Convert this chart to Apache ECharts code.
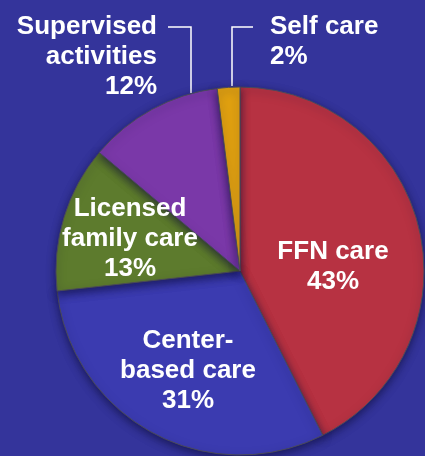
<!DOCTYPE html>
<html>
<head>
<meta charset="utf-8">
<script src="https://cdn.jsdelivr.net/npm/echarts@6/dist/echarts.min.js"></script>
<style>
  html, body { margin: 0; padding: 0; background: #34349b; }
  #chart { width: 425px; height: 456px; }
</style>
</head>
<body>
<div id="chart"></div>
<script>
// pie slices, clockwise from 12 o'clock
var categories = ['FFN care', 'Center-\nbased care', 'Licensed\nfamily care', 'Supervised\nactivities', 'Self care'];
var shares = [43, 31, 13, 12, 2];
var sliceColors = ['#b73242', '#3b3bb0', '#5d7b2d', '#7a38a8', '#e0a010'];

// where each label sits (px), and leader lines for the two outside ones
var labelPos = [
  { x: 333, y: 267, align: 'center' },
  { x: 188, y: 371, align: 'center' },
  { x: 130, y: 239, align: 'center' },
  { x: 157, y: 57, align: 'right' },
  { x: 270, y: 42, align: 'left' }
];
var leaderLines = {
  3: [[191, 93], [191, 27], [168, 27]],
  4: [[232, 86], [232, 27], [253, 27]]
};

var chart = echarts.init(document.getElementById('chart'));

var pieData = [];
categories.forEach(function (name, i) {
  pieData.push({
    name: name,
    value: shares[i],
    itemStyle: { color: sliceColors[i] },
    labelLine: { show: i >= 3 }
  });
});

chart.setOption({
  backgroundColor: '#34349b',
  animation: false,
  series: [
    {
      type: 'pie',
      center: [240, 271],
      radius: 184,
      startAngle: 90,
      clockwise: true,
      avoidLabelOverlap: false,
      data: pieData,
      itemStyle: {
        borderColor: '#4a4a5a',
        borderWidth: 1,
        shadowBlur: 8,
        shadowOffsetY: 3,
        shadowColor: 'rgba(10,10,50,0.6)'
      },
      label: {
        show: true,
        position: 'outside',
        formatter: function (p) { return p.name + '\n' + p.value + '%'; },
        color: '#ffffff',
        fontFamily: 'Liberation Sans, Arial, sans-serif',
        fontWeight: 'bold',
        fontSize: 26,
        lineHeight: 30,
        overflow: 'none'
      },
      labelLine: {
        show: true,
        lineStyle: { color: '#ffffff', width: 1.5 }
      },
      labelLayout: function (params) {
        var i = params.dataIndex;
        var pos = labelPos[i];
        var out = {
          x: pos.x,
          y: pos.y,
          align: pos.align,
          verticalAlign: 'middle',
          hideOverlap: false
        };
        if (leaderLines[i]) out.labelLinePoints = leaderLines[i];
        return out;
      },
      emphasis: { disabled: true }
    }
  ]
});
</script>
</body>
</html>
